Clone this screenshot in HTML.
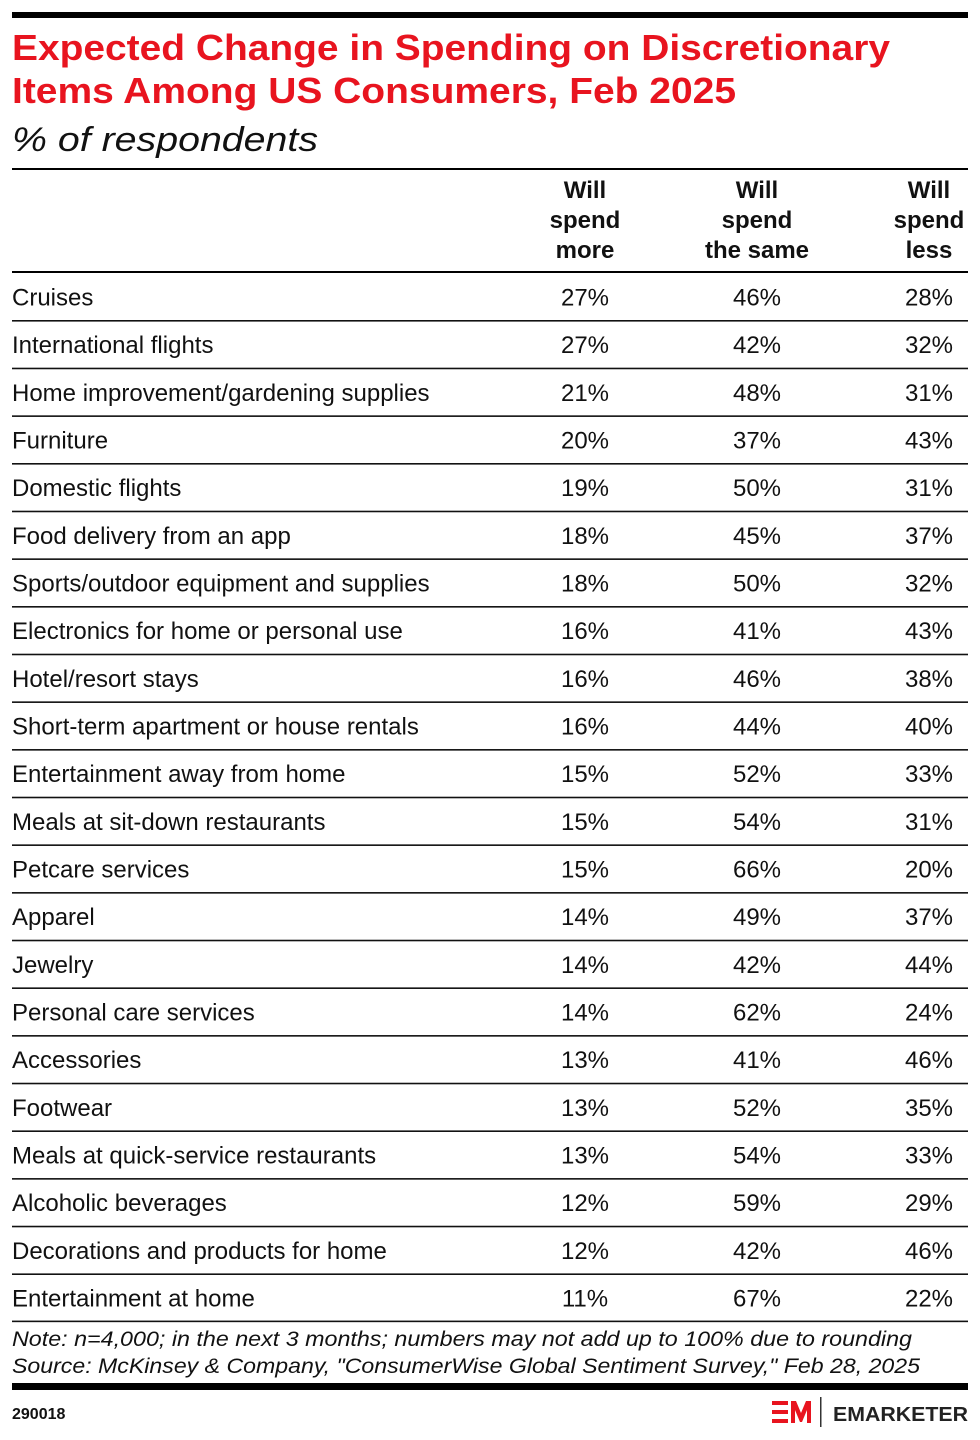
<!DOCTYPE html>
<html><head><meta charset="utf-8"><style>
html,body{margin:0;padding:0;background:#fff;}
svg{display:block;font-family:"Liberation Sans",sans-serif;}
.v{text-anchor:middle;}
</style></head><body>
<svg width="980" height="1440" viewBox="0 0 980 1440" xmlns="http://www.w3.org/2000/svg">
<rect x="12" y="12" width="956" height="6" fill="#000"/>
<text x="12" y="60" font-size="36" font-weight="bold" fill="#e8141f" textLength="878" lengthAdjust="spacingAndGlyphs">Expected Change in Spending on Discretionary</text>
<text x="12" y="103" font-size="36" font-weight="bold" fill="#e8141f" textLength="724" lengthAdjust="spacingAndGlyphs">Items Among US Consumers, Feb 2025</text>
<text x="12" y="151" font-size="34" font-style="italic" fill="#111" textLength="306" lengthAdjust="spacingAndGlyphs">% of respondents</text>
<rect x="12" y="168" width="956" height="2" fill="#000"/>
<g font-size="24" font-weight="bold" text-anchor="middle" fill="#111">
<text x="585" y="198">Will</text><text x="585" y="228">spend</text><text x="585" y="258">more</text>
<text x="757" y="198">Will</text><text x="757" y="228">spend</text><text x="757" y="258">the same</text>
<text x="929" y="198">Will</text><text x="929" y="228">spend</text><text x="929" y="258">less</text>
</g>
<rect x="12" y="271" width="956" height="2" fill="#000"/>
<g font-size="24" fill="#111">
<g transform="translate(0,297)"><text x="12" y="8.5">Cruises</text><text class="v" x="585" y="8.5">27%</text><text class="v" x="757" y="8.5">46%</text><text class="v" x="929" y="8.5">28%</text><rect x="12" y="23" width="956" height="1.6"/></g>
<g transform="translate(0,344.67)"><text x="12" y="8.5">International flights</text><text class="v" x="585" y="8.5">27%</text><text class="v" x="757" y="8.5">42%</text><text class="v" x="929" y="8.5">32%</text><rect x="12" y="23" width="956" height="1.6"/></g>
<g transform="translate(0,392.34)"><text x="12" y="8.5">Home improvement/gardening supplies</text><text class="v" x="585" y="8.5">21%</text><text class="v" x="757" y="8.5">48%</text><text class="v" x="929" y="8.5">31%</text><rect x="12" y="23" width="956" height="1.6"/></g>
<g transform="translate(0,440.01)"><text x="12" y="8.5">Furniture</text><text class="v" x="585" y="8.5">20%</text><text class="v" x="757" y="8.5">37%</text><text class="v" x="929" y="8.5">43%</text><rect x="12" y="23" width="956" height="1.6"/></g>
<g transform="translate(0,487.68)"><text x="12" y="8.5">Domestic flights</text><text class="v" x="585" y="8.5">19%</text><text class="v" x="757" y="8.5">50%</text><text class="v" x="929" y="8.5">31%</text><rect x="12" y="23" width="956" height="1.6"/></g>
<g transform="translate(0,535.35)"><text x="12" y="8.5">Food delivery from an app</text><text class="v" x="585" y="8.5">18%</text><text class="v" x="757" y="8.5">45%</text><text class="v" x="929" y="8.5">37%</text><rect x="12" y="23" width="956" height="1.6"/></g>
<g transform="translate(0,583.02)"><text x="12" y="8.5">Sports/outdoor equipment and supplies</text><text class="v" x="585" y="8.5">18%</text><text class="v" x="757" y="8.5">50%</text><text class="v" x="929" y="8.5">32%</text><rect x="12" y="23" width="956" height="1.6"/></g>
<g transform="translate(0,630.69)"><text x="12" y="8.5">Electronics for home or personal use</text><text class="v" x="585" y="8.5">16%</text><text class="v" x="757" y="8.5">41%</text><text class="v" x="929" y="8.5">43%</text><rect x="12" y="23" width="956" height="1.6"/></g>
<g transform="translate(0,678.36)"><text x="12" y="8.5">Hotel/resort stays</text><text class="v" x="585" y="8.5">16%</text><text class="v" x="757" y="8.5">46%</text><text class="v" x="929" y="8.5">38%</text><rect x="12" y="23" width="956" height="1.6"/></g>
<g transform="translate(0,726.03)"><text x="12" y="8.5">Short-term apartment or house rentals</text><text class="v" x="585" y="8.5">16%</text><text class="v" x="757" y="8.5">44%</text><text class="v" x="929" y="8.5">40%</text><rect x="12" y="23" width="956" height="1.6"/></g>
<g transform="translate(0,773.7)"><text x="12" y="8.5">Entertainment away from home</text><text class="v" x="585" y="8.5">15%</text><text class="v" x="757" y="8.5">52%</text><text class="v" x="929" y="8.5">33%</text><rect x="12" y="23" width="956" height="1.6"/></g>
<g transform="translate(0,821.37)"><text x="12" y="8.5">Meals at sit-down restaurants</text><text class="v" x="585" y="8.5">15%</text><text class="v" x="757" y="8.5">54%</text><text class="v" x="929" y="8.5">31%</text><rect x="12" y="23" width="956" height="1.6"/></g>
<g transform="translate(0,869.04)"><text x="12" y="8.5">Petcare services</text><text class="v" x="585" y="8.5">15%</text><text class="v" x="757" y="8.5">66%</text><text class="v" x="929" y="8.5">20%</text><rect x="12" y="23" width="956" height="1.6"/></g>
<g transform="translate(0,916.71)"><text x="12" y="8.5">Apparel</text><text class="v" x="585" y="8.5">14%</text><text class="v" x="757" y="8.5">49%</text><text class="v" x="929" y="8.5">37%</text><rect x="12" y="23" width="956" height="1.6"/></g>
<g transform="translate(0,964.38)"><text x="12" y="8.5">Jewelry</text><text class="v" x="585" y="8.5">14%</text><text class="v" x="757" y="8.5">42%</text><text class="v" x="929" y="8.5">44%</text><rect x="12" y="23" width="956" height="1.6"/></g>
<g transform="translate(0,1012.05)"><text x="12" y="8.5">Personal care services</text><text class="v" x="585" y="8.5">14%</text><text class="v" x="757" y="8.5">62%</text><text class="v" x="929" y="8.5">24%</text><rect x="12" y="23" width="956" height="1.6"/></g>
<g transform="translate(0,1059.72)"><text x="12" y="8.5">Accessories</text><text class="v" x="585" y="8.5">13%</text><text class="v" x="757" y="8.5">41%</text><text class="v" x="929" y="8.5">46%</text><rect x="12" y="23" width="956" height="1.6"/></g>
<g transform="translate(0,1107.39)"><text x="12" y="8.5">Footwear</text><text class="v" x="585" y="8.5">13%</text><text class="v" x="757" y="8.5">52%</text><text class="v" x="929" y="8.5">35%</text><rect x="12" y="23" width="956" height="1.6"/></g>
<g transform="translate(0,1155.06)"><text x="12" y="8.5">Meals at quick-service restaurants</text><text class="v" x="585" y="8.5">13%</text><text class="v" x="757" y="8.5">54%</text><text class="v" x="929" y="8.5">33%</text><rect x="12" y="23" width="956" height="1.6"/></g>
<g transform="translate(0,1202.73)"><text x="12" y="8.5">Alcoholic beverages</text><text class="v" x="585" y="8.5">12%</text><text class="v" x="757" y="8.5">59%</text><text class="v" x="929" y="8.5">29%</text><rect x="12" y="23" width="956" height="1.6"/></g>
<g transform="translate(0,1250.4)"><text x="12" y="8.5">Decorations and products for home</text><text class="v" x="585" y="8.5">12%</text><text class="v" x="757" y="8.5">42%</text><text class="v" x="929" y="8.5">46%</text><rect x="12" y="23" width="956" height="1.6"/></g>
<g transform="translate(0,1298.07)"><text x="12" y="8.5">Entertainment at home</text><text class="v" x="585" y="8.5">11%</text><text class="v" x="757" y="8.5">67%</text><text class="v" x="929" y="8.5">22%</text><rect x="12" y="22.5" width="956" height="1.6"/></g>
</g>
<text x="12" y="1346" font-size="21" font-style="italic" fill="#111" textLength="900" lengthAdjust="spacingAndGlyphs">Note: n=4,000; in the next 3 months; numbers may not add up to 100% due to rounding</text>
<text x="12" y="1373" font-size="21" font-style="italic" fill="#111" textLength="908" lengthAdjust="spacingAndGlyphs">Source: McKinsey &amp; Company, "ConsumerWise Global Sentiment Survey," Feb 28, 2025</text>
<rect x="12" y="1383" width="956" height="7" fill="#000"/>
<text x="12" y="1419" font-size="16" font-weight="bold" fill="#111">290018</text>
<g fill="#e8141f">
<rect x="772" y="1401" width="16" height="4"/><rect x="772" y="1410" width="16" height="4"/><rect x="772" y="1419" width="16" height="4"/>
<path d="M791 1423 V1401 H796 L801 1413 L806 1401 H811 V1423 H807 V1410 L802 1422 H800 L795 1410 V1423 Z"/>
</g>
<rect x="820" y="1397" width="1.5" height="30" fill="#333"/>
<text x="833" y="1421" font-size="20" font-weight="bold" fill="#222" textLength="135" lengthAdjust="spacingAndGlyphs">EMARKETER</text>
</svg>
</body></html>
